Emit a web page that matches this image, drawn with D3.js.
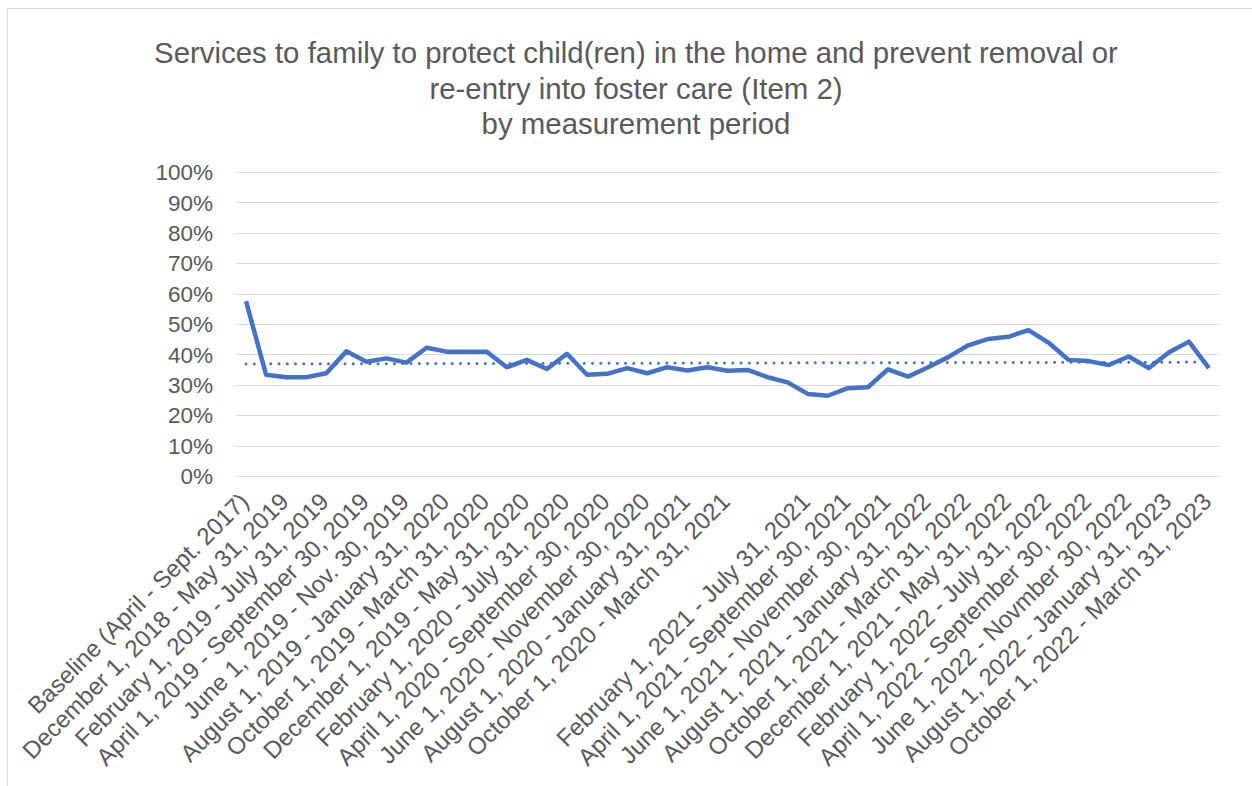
<!DOCTYPE html>
<meta charset="utf-8">
<script src="https://cdn.jsdelivr.net/npm/d3@7/dist/d3.min.js"></script>
<style>

body {
  margin: 0;
  background: #fff;
}

text {
  font-family: "Liberation Sans", Arial, sans-serif;
  fill: #595959;
}

.grid line {
  stroke: #d9d9d9;
  stroke-width: 1.2px;
}

path.series {
  fill: none;
  stroke: #4472c4;
  stroke-width: 4.5px;
  stroke-linejoin: round;
}

path.trend {
  fill: none;
  stroke: #4472c4;
  stroke-width: 3px;
  stroke-linecap: round;
  stroke-dasharray: 0 8.25;
}

</style>
<body>
<script>

var titleLines = [
  "Services to family to protect child(ren) in the home and prevent removal or",
  "re-entry into foster care (Item 2)",
  "by measurement period"
];

// only every other period carries a label on the axis
var tickLabels = [
  "Baseline (April - Sept. 2017)",
  "December 1, 2018 - May 31, 2019",
  "February 1, 2019 - July 31, 2019",
  "April 1, 2019 - September 30, 2019",
  "June 1, 2019 - Nov. 30, 2019",
  "August 1, 2019 - January 31, 2020",
  "October 1, 2019 - March 31, 2020",
  "December 1, 2019 - May 31, 2020",
  "February 1, 2020 - July 31, 2020",
  "April 1, 2020 - September 30, 2020",
  "June 1, 2020 - November 30, 2020",
  "August 1, 2020 - January 31, 2021",
  "October 1, 2020 - March 31, 2021",
  "",
  "February 1, 2021 - July 31, 2021",
  "April 1, 2021 - September 30, 2021",
  "June 1, 2021 - November 30, 2021",
  "August 1, 2021 - January 31, 2022",
  "October 1, 2021 - March 31, 2022",
  "December 1, 2021 - May 31, 2022",
  "February 1, 2022 - July 31, 2022",
  "April 1, 2022 - September 30, 2022",
  "June 1, 2022 - Novmber 30, 2022",
  "August 1, 2022 - January 31, 2023",
  "October 1, 2022 - March 31, 2023"
];

// percent, one per measurement period
var values = [
  57.5, 33.3, 32.5, 32.5, 33.8, 41.0, 37.6, 38.7, 37.3, 42.2,
  40.9, 40.9, 40.9, 35.8, 38.2, 35.2, 40.2, 33.3, 33.6, 35.5,
  33.8, 35.8, 34.7, 35.8, 34.6, 34.9, 32.5, 30.8, 27.0, 26.4,
  28.9, 29.2, 35.1, 32.7, 35.8, 39.1, 43.0, 45.1, 45.8, 48.0,
  43.9, 38.2, 37.8, 36.5, 39.3, 35.5, 40.6, 44.2, 35.5
];

var yTicks = [0, 10, 20, 30, 40, 50, 60, 70, 80, 90, 100];

var width = 1252,
    height = 786;

var svg = d3.select("body").append("svg")
    .attr("width", width)
    .attr("height", height);

// chart border
svg.append("rect")
    .attr("x", 7.5)
    .attr("y", 8.5)
    .attr("width", width)
    .attr("height", height)
    .style("fill", "#fff")
    .style("stroke", "#d9d9d9")
    .style("stroke-width", 1.2);

var x = d3.scalePoint()
    .domain(d3.range(values.length))
    .range([236, 1219])
    .padding(0.5);

var y = d3.scaleLinear()
    .domain([0, 100])
    .range([476, 172]);

// title
svg.append("g")
    .selectAll("text")
    .data(titleLines)
    .enter().append("text")
    .attr("x", 636)
    .attr("y", function(d, i) { return 63 + i * 35.5; })
    .attr("text-anchor", "middle")
    .style("font-size", "29.4px")
    .text(function(d) { return d; });

// gridlines
svg.append("g")
    .attr("class", "grid")
    .selectAll("line")
    .data(yTicks)
    .enter().append("line")
    .attr("x1", 236)
    .attr("x2", 1219)
    .attr("y1", function(d) { return Math.round(y(d)) + 0.5; })
    .attr("y2", function(d) { return Math.round(y(d)) + 0.5; });

// y labels
svg.append("g")
    .selectAll("text")
    .data(yTicks)
    .enter().append("text")
    .attr("x", 213)
    .attr("y", function(d) { return y(d); })
    .attr("dy", "0.36em")
    .attr("text-anchor", "end")
    .style("font-size", "22.5px")
    .text(function(d) { return d + "%"; });

// x labels, every second period
svg.append("g")
    .selectAll("text")
    .data(tickLabels)
    .enter().append("text")
    .attr("text-anchor", "end")
    .attr("transform", function(d, i) {
      return "translate(" + (x(i * 2) + 4) + ",503) rotate(-45)";
    })
    .style("font-size", "24px")
    .text(function(d) { return d; });

// linear trendline (least squares over the series)
var n = values.length,
    mx = d3.mean(d3.range(n)),
    my = d3.mean(values);
var slope = d3.sum(values, function(v, i) { return (i - mx) * (v - my); }) /
            d3.sum(d3.range(n), function(i) { return (i - mx) * (i - mx); });
var trend = [0, n - 1].map(function(i) { return [i, my + slope * (i - mx)]; });

svg.append("path")
    .datum(trend)
    .attr("class", "trend")
    .attr("d", d3.line()
      .x(function(d) { return x(d[0]); })
      .y(function(d) { return y(d[1]); }));

var line = d3.line()
    .x(function(d, i) { return x(i); })
    .y(function(d) { return y(d); });

svg.append("path")
    .datum(values)
    .attr("class", "series")
    .attr("d", line);

</script>
</body>
